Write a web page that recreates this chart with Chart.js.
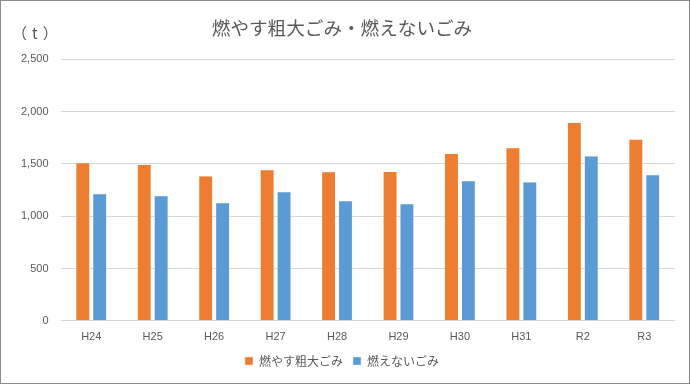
<!DOCTYPE html>
<html>
<head>
<meta charset="utf-8">
<script src="https://cdn.jsdelivr.net/npm/chart.js@4/dist/chart.umd.min.js"></script>
<style>
  body { margin: 0; background: #fff; }
  #wrap { width: 688px; height: 382px; border: 1px solid #8c8c8c; position: relative; }
</style>
</head>
<body>
<div id="wrap"><canvas id="chart" width="688" height="382"></canvas></div>
<script>
const labels = ["H24", "H25", "H26", "H27", "H28", "H29", "H30", "H31", "R2", "R3"];
const burnableBulky = [1510, 1495, 1385, 1445, 1426, 1428, 1600, 1655, 1895, 1735];
const nonBurnable = [1214, 1195, 1128, 1233, 1147, 1120, 1340, 1328, 1575, 1397];
const yTicks = [0, 500, 1000, 1500, 2000, 2500];

const jpFont = "'Noto Sans CJK JP', 'Noto Sans', sans-serif";
const numFont = "'Liberation Sans', 'DejaVu Sans', sans-serif";

// unit label at top left
const unitLabel = {
  id: "unitLabel",
  afterDraw(chart) {
    const ctx = chart.ctx;
    ctx.save();
    ctx.fillStyle = "#595959";
    ctx.font = "15px " + jpFont;
    ctx.letterSpacing = "5px";
    ctx.textBaseline = "middle";
    ctx.fillText("（t）", 11, 32);
    ctx.restore();
  }
};

new Chart("chart", {
  type: "bar",
  data: {
    labels: labels,
    datasets: [
      {
        label: "燃やす粗大ごみ",
        data: burnableBulky,
        backgroundColor: "#ed7d31",
        borderColor: "#fbe3d3",
        borderWidth: 0.5
      },
      {
        label: "燃えないごみ",
        data: nonBurnable,
        backgroundColor: "#5b9bd5",
        borderColor: "#dfeaf7",
        borderWidth: 0.5
      }
    ]
  },
  options: {
    responsive: false,
    animation: false,
    datasets: { bar: { categoryPercentage: 0.55, barPercentage: 0.82 } },
    layout: { padding: { left: 8, right: 14, top: 6, bottom: 6 } },
    plugins: {
      title: {
        display: true,
        text: "燃やす粗大ごみ・燃えないごみ",
        color: "#595959",
        font: { family: jpFont, size: 18.6, weight: "normal" },
        padding: { top: 10, bottom: 20 }
      },
      legend: {
        position: "bottom",
        labels: {
          color: "#595959",
          font: { family: jpFont, size: 12 },
          boxWidth: 8,
          boxHeight: 8,
          padding: 10
        }
      },
      tooltip: { enabled: false }
    },
    scales: {
      x: {
        clip: false,
        grid: { display: false, drawTicks: false },
        border: { display: false },
        ticks: { color: "#595959", font: { family: numFont, size: 11 }, padding: 10 },
        afterFit(axis) { axis.height -= 9; }
      },
      y: {
        min: 0,
        max: 2500,
        afterBuildTicks(axis) { axis.ticks = yTicks.map(v => ({ value: v })); },
        grid: { color: "#d9d9d9", drawTicks: false },
        border: { display: false },
        ticks: {
          color: "#595959",
          font: { family: numFont, size: 11 },
          padding: 12,
          callback: v => v.toLocaleString("en-US")
        }
      }
    }
  },
  plugins: [unitLabel]
});
</script>
</body>
</html>
